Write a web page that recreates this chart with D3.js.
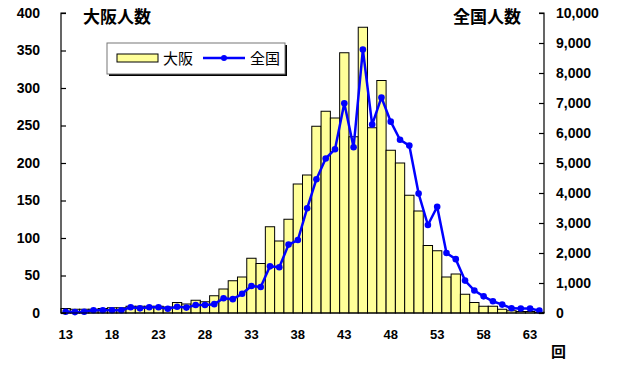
<!DOCTYPE html>
<html><head><meta charset="utf-8">
<script src="https://cdn.jsdelivr.net/npm/d3@7"></script>
<style>
html,body{margin:0;padding:0;background:#fff;}
text{font-family:"Liberation Sans",Arial,sans-serif;}
.jp{font-family:"Noto Sans CJK JP","Noto Sans CJK SC",sans-serif;}
</style></head>
<body>
<svg id="c" width="624" height="377"></svg>
<script>
const categories = [13,14,15,16,17,18,19,20,21,22,23,24,25,26,27,28,29,30,31,32,33,34,35,36,37,38,39,40,41,42,43,44,45,46,47,48,49,50,51,52,53,54,55,56,57,58,59,60,61,62,63,64];
const osaka = [6,5,5,5,6,7,7,9,9,9,9,8,14,12,17,15,23,32,43,48,73,66,115,96,125,172,184,249,269,260,347,235,381,247,310,217,200,157,136,90,83,48,52,25,14,9,9,5,3,2,2,1];
const zenkoku = [40,30,40,90,90,90,90,190,155,190,190,140,210,180,267,267,295,490,462,640,900,868,1555,1523,2280,2433,3490,4460,5150,5460,6990,5525,8780,6280,7185,6378,5775,5580,3980,2933,3543,2000,1795,1080,750,555,390,280,157,150,150,80];
const xTickLabels = [13,18,23,28,33,38,43,48,53,58,63];
const leftTicks = [0,50,100,150,200,250,300,350,400];
const rightTicks = [0,1000,2000,3000,4000,5000,6000,7000,8000,9000,10000];
const seriesNames = ["大阪","全国"];
const axisTitles = ["大阪人数","全国人数"];
const unitLabel = "回";

const svg = d3.select("#c");
const L = 61, R = 544, T = 13, B = 313;
const x = d3.scaleBand().domain(categories).range([L, R]).padding(0);
const yL = d3.scaleLinear().domain([0,400]).range([B,T]);
const yR = d3.scaleLinear().domain([0,10000]).range([B,T]);

svg.append("rect").attr("width",624).attr("height",377).attr("fill","#fff");

// bars
svg.append("g").selectAll("rect").data(categories).join("rect")
  .attr("x", d => x(d))
  .attr("y", (d,i) => yL(osaka[i]))
  .attr("width", x.bandwidth())
  .attr("height", (d,i) => B - yL(osaka[i]))
  .attr("fill","#FFFF99").attr("stroke","#000").attr("stroke-width",1);

// line
const line = d3.line().x((d,i)=>x(categories[i])+x.bandwidth()/2).y(d=>yR(d));
svg.append("path").datum(zenkoku).attr("d",line)
  .attr("fill","none").attr("stroke","#0000FF").attr("stroke-width",2.5).attr("stroke-linejoin","round");
svg.append("g").selectAll("circle").data(zenkoku).join("circle")
  .attr("cx",(d,i)=>x(categories[i])+x.bandwidth()/2)
  .attr("cy",d=>yR(d)).attr("r",3.3).attr("fill","#0000FF");

// axes
const axL = d3.axisLeft(yL).tickValues(leftTicks).tickSize(-5).tickPadding(21).tickFormat(d3.format("d"));
const gL = svg.append("g").attr("transform",`translate(${L},0)`).call(axL);
const axR = d3.axisRight(yR).tickValues(rightTicks).tickSize(-5).tickPadding(12).tickFormat(d3.format(","));
const gR = svg.append("g").attr("transform",`translate(${R},0)`).call(axR);
[gL,gR].forEach(g=>{
  g.select(".domain").attr("stroke","#000").attr("stroke-width",1.2);
  g.selectAll(".tick line").attr("stroke","#000").attr("stroke-width",1.2);
  g.selectAll("text").attr("font-size",14).attr("font-weight","bold").attr("fill","#000")
   .attr("font-family","'Liberation Sans',Arial,sans-serif");
});
gR.select(".domain").attr("d",`M-5,${T}H0V${B}H-5`);
gL.select(".domain").attr("d",`M5,${T}H0V${B}H5`);

const axB = d3.axisBottom(x).tickValues(xTickLabels).tickSize(0).tickPadding(17);
const gB = svg.append("g").attr("transform",`translate(0,${B})`).call(axB);
gB.select(".domain").attr("stroke","#000").attr("stroke-width",1.2).attr("d",`M${L},0H${R}`);
gB.selectAll("text").attr("font-size",13).attr("font-weight","bold").attr("fill","#000")
  .attr("font-family","'Liberation Sans',Arial,sans-serif");

// titles
svg.append("text").attr("class","jp").attr("x",83).attr("y",23).attr("font-size",17).attr("font-weight","bold").text(axisTitles[0]);
svg.append("text").attr("class","jp").attr("x",453).attr("y",23).attr("font-size",17).attr("font-weight","bold").text(axisTitles[1]);
svg.append("text").attr("class","jp").attr("x",551).attr("y",357).attr("font-size",15).attr("font-weight","bold").text(unitLabel);

// legend
const lg = svg.append("g");
lg.append("rect").attr("x",109).attr("y",45).attr("width",178).attr("height",31).attr("fill","#000");
lg.append("rect").attr("x",107).attr("y",43).attr("width",178).attr("height",31).attr("fill","#fff").attr("stroke","#777").attr("stroke-width",1);
lg.append("rect").attr("x",117).attr("y",54).attr("width",41).attr("height",8).attr("fill","#FFFF99").attr("stroke","#000");
lg.append("text").attr("class","jp").attr("x",163).attr("y",64).attr("font-size",15).text(seriesNames[0]);
lg.append("line").attr("x1",203).attr("x2",245).attr("y1",58).attr("y2",58).attr("stroke","#0000FF").attr("stroke-width",2.5);
lg.append("circle").attr("cx",224).attr("cy",58).attr("r",3).attr("fill","#0000FF");
lg.append("text").attr("class","jp").attr("x",250).attr("y",64).attr("font-size",15).text(seriesNames[1]);
</script>
</body></html>
